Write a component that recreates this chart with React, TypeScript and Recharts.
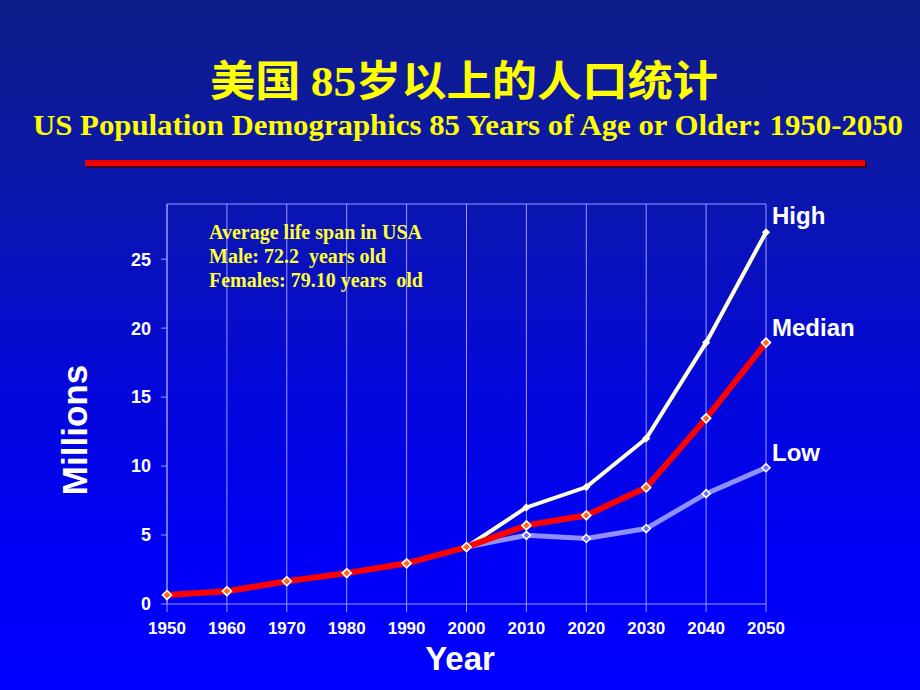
import React from "react";
import { LineChart, Line, XAxis, YAxis, CartesianGrid, ReferenceLine } from "recharts";

const years = [1950, 1960, 1970, 1980, 1990, 2000, 2010, 2020, 2030, 2040, 2050];
const medianValues = [0.65, 0.93, 1.65, 2.24, 2.95, 4.13, 5.7, 6.43, 8.45, 13.46, 18.95];
const highValues = [null, null, null, null, null, 4.13, 7.0, 8.48, 12.0, 18.95, 26.95];
const lowValues = [null, null, null, null, null, 4.13, 4.98, 4.75, 5.47, 8.0, 9.88];
const yTicks = [0, 5, 10, 15, 20, 25];

const data = years.map((year, i) => ({
  year,
  median: medianValues[i],
  high: highValues[i],
  low: lowValues[i],
}));

const makeDiamond = (fill: string, stroke: string, r: number) => (props: any) => {
  const { cx, cy, value, index } = props;
  if (value == null || cx == null || cy == null || isNaN(cy)) return <g key={`d-${index}`} />;
  const pts = `${cx},${cy - r} ${cx + r},${cy} ${cx},${cy + r} ${cx - r},${cy}`;
  return <polygon key={`d-${index}`} points={pts} fill={fill} stroke={stroke} strokeWidth={1.6} />;
};

const gridColor = "#9a9aff";
const tickStyle = { fill: "#ffffff", fontFamily: "Arial, 'Liberation Sans', sans-serif", fontWeight: 700, fontSize: 17 };

export default function App() {
  return (
    <div
      style={{
        position: "fixed",
        left: 0,
        top: 0,
        width: 920,
        height: 690,
        background: "linear-gradient(to bottom, #0e1c88 0%, #0c18a8 25%, #0508d8 55%, #0000f6 80%, #0000ff 100%)",
        overflow: "hidden",
      }}
    >
      <LineChart
        width={920}
        height={690}
        data={data}
        margin={{ top: 204, right: 154, bottom: 46, left: 107 }}
      >
        <CartesianGrid horizontal={false} vertical={true} stroke={gridColor} strokeWidth={1} />
        <ReferenceLine y={29} stroke={gridColor} strokeWidth={1} />
        <XAxis
          dataKey="year"
          type="number"
          domain={[1950, 2050]}
          ticks={years}
          height={40}
          stroke={gridColor}
          tickSize={8}
          tickMargin={10}
          tick={tickStyle}
          interval={0}
        />
        <YAxis
          type="number"
          domain={[0, 29]}
          ticks={yTicks}
          width={60}
          stroke={gridColor}
          tickSize={6}
          tickMargin={10}
          tick={{ ...tickStyle, fontSize: 18 }}
          allowDataOverflow
        />
        <Line
          type="linear"
          dataKey="low"
          stroke="#8f8fff"
          strokeWidth={5}
          dot={makeDiamond("#6e6eff", "#ffffff", 4)}
          connectNulls={false}
          isAnimationActive={false}
        />
        <Line
          type="linear"
          dataKey="high"
          stroke="#ffffd6"
          strokeWidth={4}
          dot={makeDiamond("#ffffff", "#ffffe8", 3)}
          connectNulls={false}
          isAnimationActive={false}
        />
        <Line
          type="linear"
          dataKey="median"
          stroke="#ff0000"
          strokeWidth={6}
          dot={makeDiamond("#ff6a1a", "#ffffff", 4.5)}
          isAnimationActive={false}
        />
      </LineChart>

      <svg
        width={920}
        height={690}
        style={{ position: "absolute", left: 0, top: 0, pointerEvents: "none" }}
      >
        <text
          x={464}
          y={96}
          textAnchor="middle"
          fill="#ffff00"
          fontSize={42}
          fontWeight={700}
          fontFamily="'Noto Sans CJK SC', sans-serif"
          textLength={508}
          lengthAdjust="spacingAndGlyphs"
        >
          美国 <tspan fontFamily="'Liberation Serif', 'Times New Roman', serif">85</tspan>岁以上的人口统计
        </text>
        <text
          x={468}
          y={135}
          textAnchor="middle"
          fill="#ffff00"
          fontSize={30}
          fontWeight={700}
          fontFamily="'Liberation Serif', 'Times New Roman', serif"
          textLength={870}
          lengthAdjust="spacingAndGlyphs"
        >
          US Population Demographics 85 Years of Age or Older: 1950-2050
        </text>
        <rect x={87} y={162} width={780} height={6} fill="#400020" />
        <rect x={85} y={160} width={780} height={6} fill="#ee0000" />

        <g fill="#ffff33" fontFamily="'Liberation Serif', 'Times New Roman', serif" fontWeight={700} fontSize={20}>
          <text x={209} y={239}>Average life span in USA</text>
          <text x={209} y={263} style={{ whiteSpace: "pre" }}>Male: 72.2  years old</text>
          <text x={209} y={287} style={{ whiteSpace: "pre" }}>Females: 79.10 years  old</text>
        </g>

        <g fill="#ffffff" fontFamily="Arial, 'Liberation Sans', sans-serif" fontWeight={700} fontSize={24}>
          <text x={772} y={224}>High</text>
          <text x={772} y={336}>Median</text>
          <text x={772} y={461}>Low</text>
        </g>

        <text
          x={460}
          y={670}
          textAnchor="middle"
          fill="#ffffff"
          fontFamily="Arial, 'Liberation Sans', sans-serif"
          fontWeight={700}
          fontSize={33}
        >
          Year
        </text>
        <text
          transform="translate(87,430) rotate(-90)"
          textAnchor="middle"
          fill="#ffffff"
          fontFamily="Arial, 'Liberation Sans', sans-serif"
          fontWeight={700}
          fontSize={35}
        >
          Millions
        </text>
      </svg>
    </div>
  );
}
